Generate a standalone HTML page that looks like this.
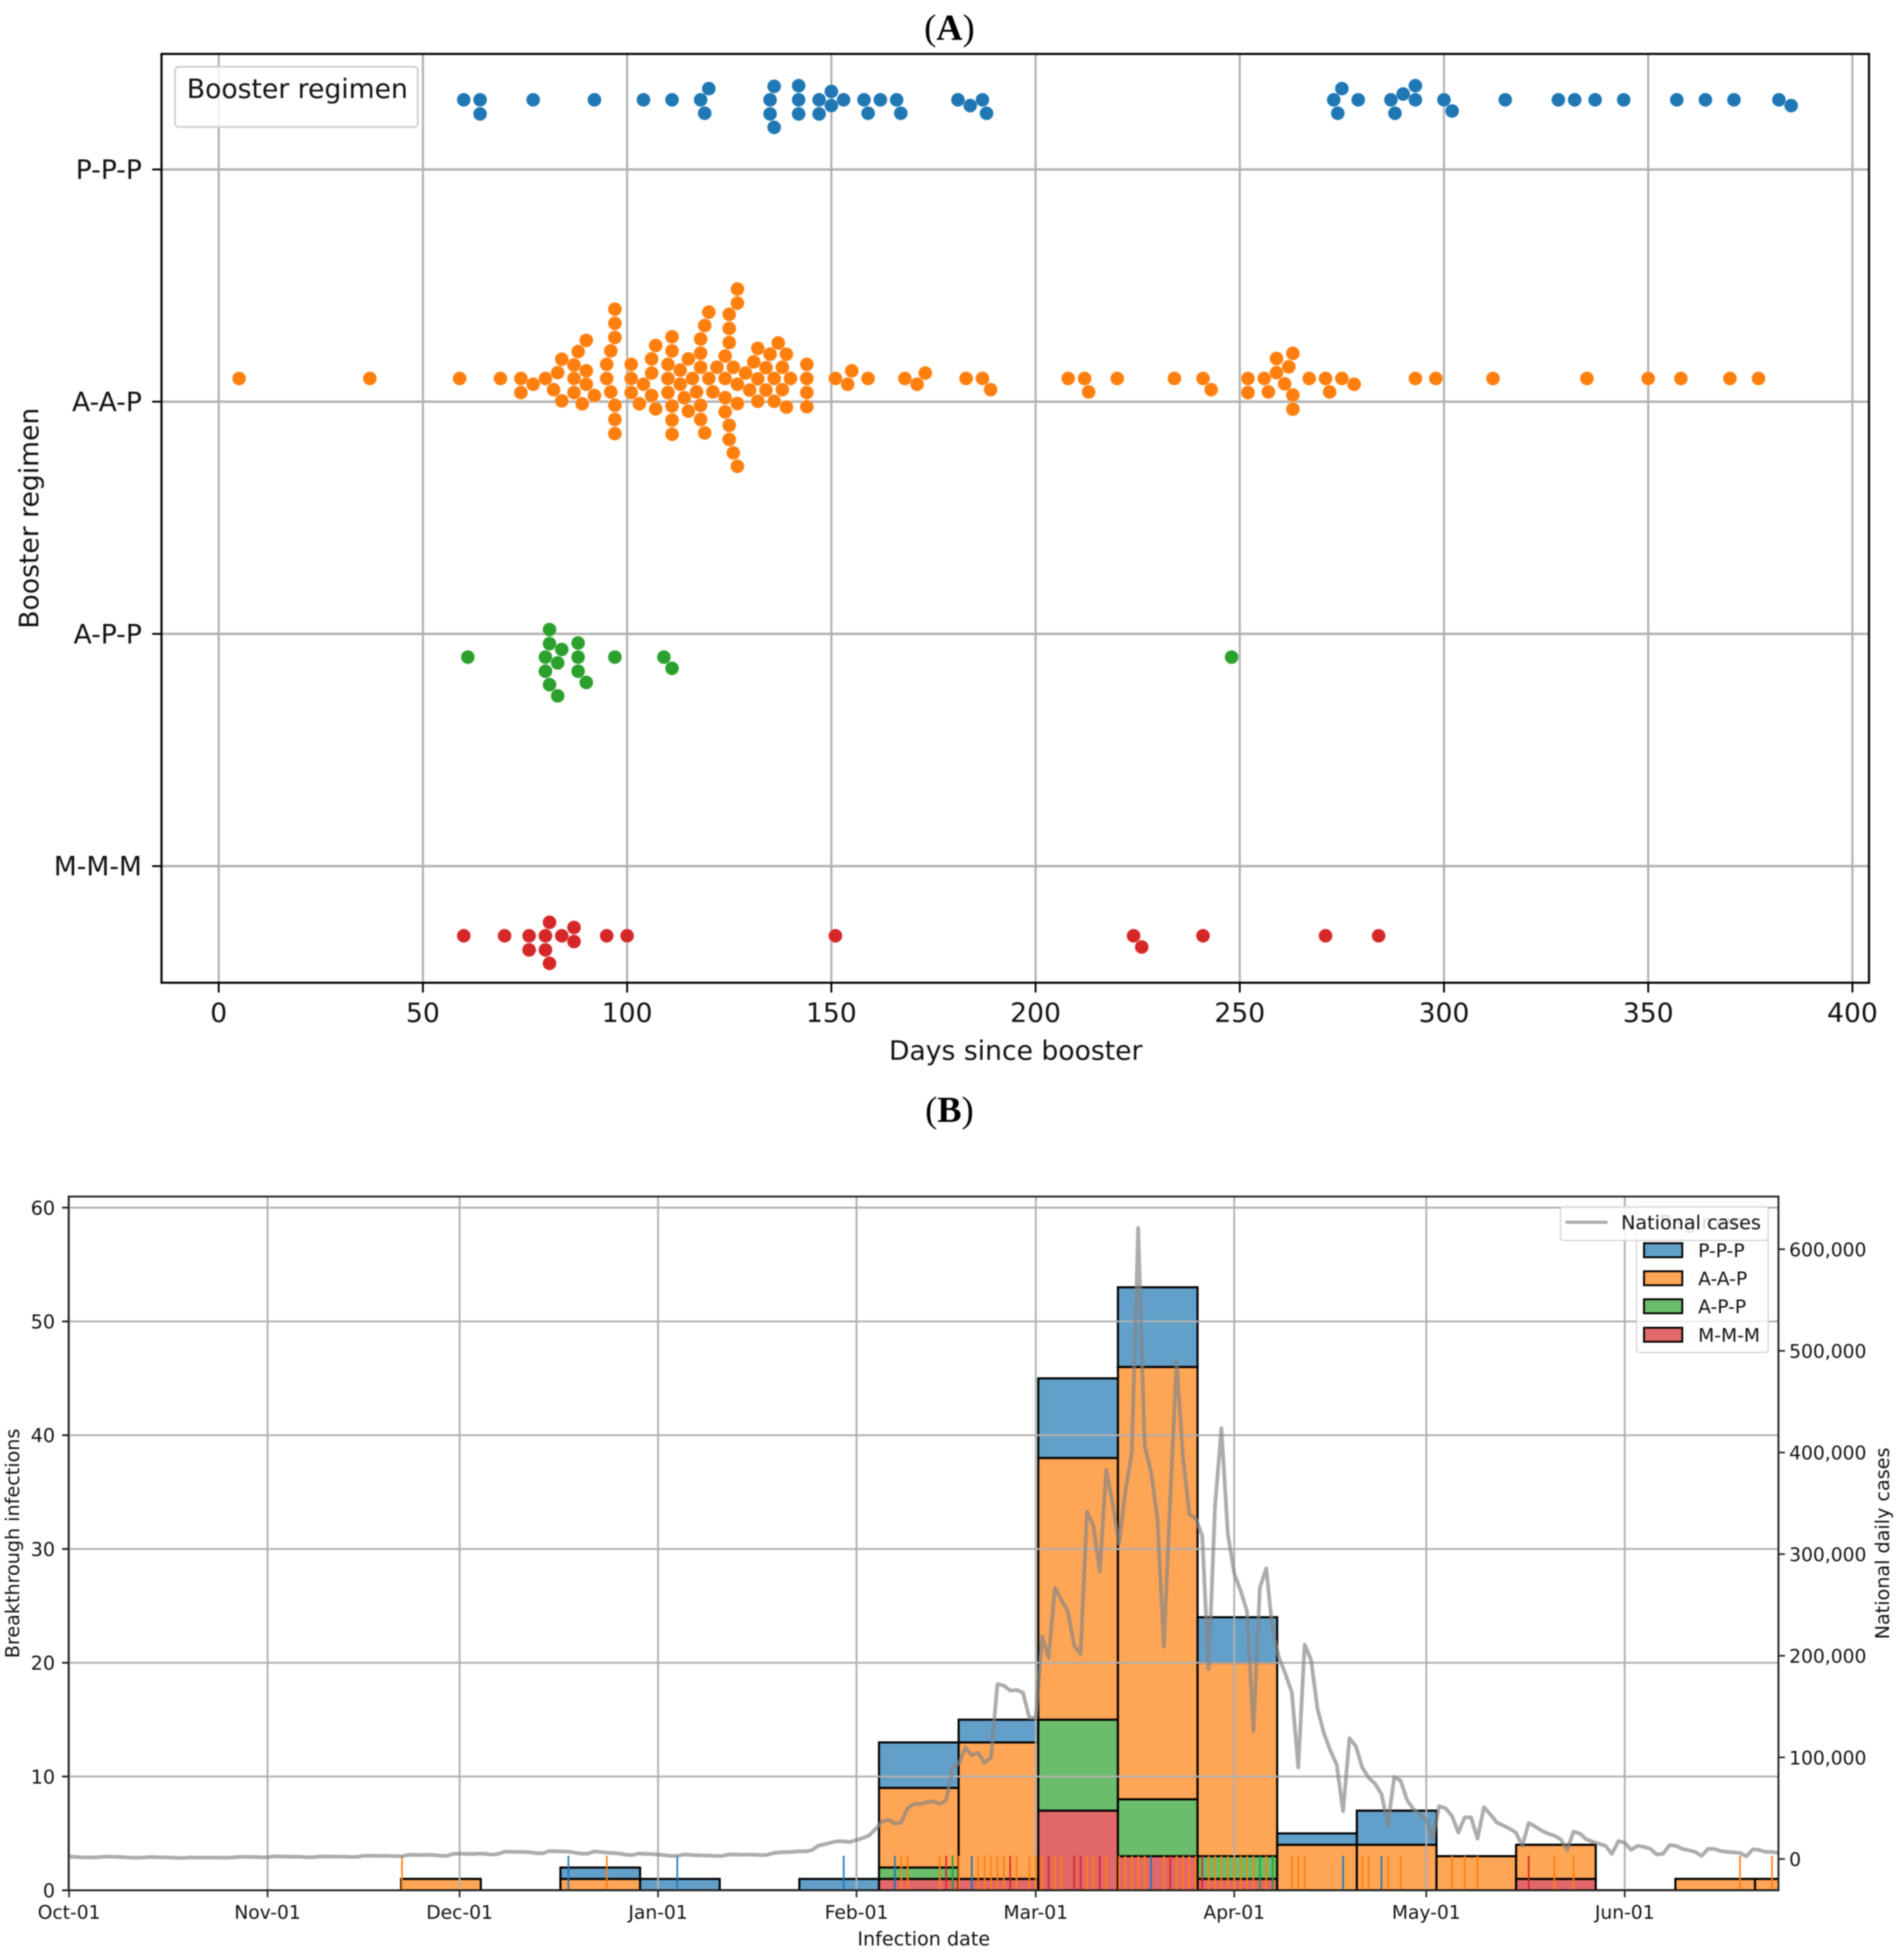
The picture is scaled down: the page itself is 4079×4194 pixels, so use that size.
<!DOCTYPE html>
<html lang="en">
<head>
<meta charset="utf-8">
<title>Booster regimen breakthrough infections</title>
<style>
html,body{margin:0;padding:0;background:#fff;}
svg{display:block;filter:blur(1px);}
text{font-family:"DejaVu Sans","Liberation Sans",sans-serif;fill:#111;}
.serif{font-family:"Liberation Serif",serif;fill:#000;}
</style>
</head>
<body>
<svg id="figure" xmlns="http://www.w3.org/2000/svg" width="4079" height="4194" viewBox="0 0 4079 4194">
  <defs>
    <clipPath id="clip-b"><rect x="147" y="2563" width="3663" height="1486"/></clipPath>
  </defs>
  <rect x="0" y="0" width="4079" height="4194" fill="#fff"/>
  <text class="serif" x="2034" y="85" font-size="78" text-anchor="middle">(<tspan font-weight="bold">A</tspan>)</text>
  <text class="serif" x="2034" y="2403" font-size="78" text-anchor="middle">(<tspan font-weight="bold">B</tspan>)</text>

  <g id="panel-a">
    <g id="a-grid"></g>
    <g id="a-dots"></g>
    <g id="a-axes"></g>
    <g>
      <rect x="375" y="143" width="520" height="129" rx="8" fill="#fff" fill-opacity="0.8" stroke="#d0d0d0" stroke-width="4"/>
      <text x="637" y="210" font-size="57" text-anchor="middle">Booster regimen</text>
    </g>
    <text x="2176" y="2270" font-size="57" text-anchor="middle">Days since booster</text>
    <text transform="translate(82,1110) rotate(-90)" font-size="57" text-anchor="middle">Booster regimen</text>
  </g>

  <g id="panel-b">
    <g id="b-plot" clip-path="url(#clip-b)">
      <g id="b-bars"></g>
      <g id="b-grid"></g>
      <g id="b-rug"></g>
      <g id="b-line"></g>
    </g>
    <g id="b-axes"></g>
    <g>
      <rect x="3506" y="2585" width="282" height="312" rx="6" fill="#fff" fill-opacity="0.8" stroke="#d8d8d8" stroke-width="3"/>
      <text x="3646" y="2632" font-size="41" text-anchor="middle">Regimen</text>
      <rect x="3522" y="2663" width="82" height="30" fill="#62a0ca" stroke="#000" stroke-width="4"/>
      <text x="3638" y="2693" font-size="40">P-P-P</text>
      <rect x="3522" y="2723" width="82" height="30" fill="#ffa556" stroke="#000" stroke-width="4"/>
      <text x="3638" y="2753" font-size="40">A-A-P</text>
      <rect x="3522" y="2783" width="82" height="30" fill="#6bbc6b" stroke="#000" stroke-width="4"/>
      <text x="3638" y="2813" font-size="40">A-P-P</text>
      <rect x="3522" y="2844" width="82" height="30" fill="#e26869" stroke="#000" stroke-width="4"/>
      <text x="3638" y="2874" font-size="40">M-M-M</text>
    </g>
    <g>
      <rect x="3343" y="2585" width="445" height="72" rx="6" fill="#fff" fill-opacity="0.85" stroke="#d8d8d8" stroke-width="3"/>
      <line x1="3354" x2="3444" y1="2618" y2="2618" stroke="#999" stroke-opacity="0.8" stroke-width="7"/>
      <text x="3473" y="2633" font-size="41">National cases</text>
    </g>
    <text x="1979" y="4167" font-size="41" text-anchor="middle">Infection date</text>
    <text transform="translate(41,3306) rotate(-90)" font-size="41" text-anchor="middle">Breakthrough infections</text>
    <text transform="translate(4047,3306) rotate(-90)" font-size="41" text-anchor="middle">National daily cases</text>
  </g>
</svg>

<script>
/* ---------- Panel A data: days since booster ---------- */
const regimenLabels = ['P-P-P', 'A-A-P', 'A-P-P', 'M-M-M'];
const daysTicks = [0, 50, 100, 150, 200, 250, 300, 350, 400];
const daysPPP = [60,64,64,77,92,104,111,118,119,120,135,135,136,136,142,142,142,147,147,150,150,153,158,159,162,166,167,181,184,187,188,273,274,275,279,287,288,290,293,293,300,302,315,328,332,337,344,357,364,371,382,385];
const daysAAP = [5,37,59,69,74,74,77,80,82,83,84,84,87,87,87,88,89,90,90,90,92,95,95,96,96,97,97,97,97,97,97,101,101,101,103,104,106,106,106,107,107,110,110,110,111,111,111,111,111,113,113,114,115,115,116,117,118,118,118,118,118,119,119,120,120,121,122,124,124,124,124,125,125,125,125,125,126,126,127,127,127,127,127,129,130,131,132,132,132,134,134,135,136,136,137,138,138,139,139,140,144,144,144,144,151,154,155,159,168,171,173,183,187,189,208,212,213,220,234,241,243,252,252,256,257,259,259,261,262,263,263,263,267,271,272,275,278,293,298,312,335,350,358,370,377];
const daysAPP = [61,80,80,81,81,81,83,83,84,88,88,88,90,97,109,111,248];
const daysMMM = [60,70,76,76,80,80,81,81,84,87,87,95,100,151,224,226,241,271,284];

/* ---------- Panel B data ---------- */
const monthTicks = [0, 31, 61, 92, 123, 151, 182, 212, 243];
const monthLabels = ['Oct-01', 'Nov-01', 'Dec-01', 'Jan-01', 'Feb-01', 'Mar-01', 'Apr-01', 'May-01', 'Jun-01'];
const infectionTicks = [0, 10, 20, 30, 40, 50, 60];
const nationalTicks = [0, 100000, 200000, 300000, 400000, 500000, 600000];
/* histogram counts per 12.44-day bin, starting at day 51.87 */
const binMMM = [0,0,0,0,0,0,1,1,7,3,1,0,0,0,1,0,0,0];
const binAPP = [0,0,0,0,0,0,1,0,8,5,2,0,0,0,0,0,0,0];
const binAAP = [1,0,1,0,0,0,7,12,23,38,17,4,4,3,3,0,1,1];
const binPPP = [0,0,1,1,0,1,4,2,7,7,4,1,3,0,0,0,0,0];
/* rug marks: infection day, counted from Oct-01 */
const rugPPP = [78,95,121,129,141,169,199,205];
const rugAAP = [52,84,130,131,136,139,142,143,144,145,146,148,150,151,152,154,155,159,160,162,164,165,166,167,168,171,173,174,175,176,178,179,180,181,182,183,184,185,187,191,192,193,202,203,206,208,216,218,220,232,235,261,266];
const rugAPP = [138,186,188];
const rugMMM = [137,147,153,157,158,161,172,177,228];
/* national daily cases, one value per day from Oct-01 */
const nationalCases = [
 2485,2085,1673,1573,1575,2027,2427,2173,1953,1594,1297,1347,1583,1939,1684,1617,1420,1050,1073,1571,1440,1441,1423,1508,1266,1266,1952,2111,2124,2061,1686,
 1685,2667,2482,2343,2247,2224,1758,1715,2425,2520,2368,2324,2419,2006,2125,3187,3292,3034,3206,3120,2827,2698,4116,4088,3938,4068,3901,3309,3032,5123,
 5266,5125,4944,5352,5128,4325,4954,7175,7102,7022,6977,6683,5817,5567,7850,7622,7435,7314,6236,5318,5202,7456,6919,6233,5842,5419,4207,3865,5409,5037,4875,
 4416,3833,3129,3024,4444,4126,3716,3511,3376,3007,3094,4388,4542,4166,4420,4194,3857,4071,5805,6603,6769,7009,7628,7513,8571,13012,14518,16096,17542,17300,16800,
 18800,20700,23300,29700,36900,38700,34800,36100,50300,54200,54200,56000,56800,54200,57500,90000,94000,109600,102000,104500,94600,99800,172000,170700,165800,166300,163700,139000,
 139000,219000,198000,267000,255000,243700,210000,201600,342000,328000,283000,383000,350000,310000,362000,400000,621000,407000,381000,335000,209000,354000,490000,395000,339000,335000,318000,187000,347000,424000,320000,
 281000,264000,243700,126000,267000,286000,224000,198000,182000,164000,90000,211000,196000,148000,124000,107000,93000,47000,119000,111000,90000,80000,74000,64000,33600,81000,77000,58000,49000,44000,
 39000,19000,52000,50000,42600,26000,41000,41000,20000,51000,44000,36000,33000,30000,26000,13000,35600,32000,28000,25000,23000,19400,9000,27000,25000,19400,17000,15000,13000,5000,17600,
 16000,9000,13000,12000,10000,4500,5200,13700,13000,10000,8600,7000,3000,10000,10000,7800,7000,6500,6000,2600,9600,9000,7000,7000,6000
];

const COLORS = {ppp:'#1f77b4', aap:'#ff7f0e', app:'#2ca02c', mmm:'#d62728'};
const FILLS = {ppp:'#62a0ca', aap:'#ffa556', app:'#6bbc6b', mmm:'#e26869'};
const NS = 'http://www.w3.org/2000/svg';

function mk(parent, tag, attrs, txt) {
  const el = document.createElementNS(NS, tag);
  for (const k in attrs) el.setAttribute(k, attrs[k]);
  if (txt !== undefined) el.textContent = txt;
  parent.appendChild(el);
  return el;
}
function byId(id) { return document.getElementById(id); }

/* ---------- Panel A scales ---------- */
const A = {left:346, right:4004, top:115.5, bottom:2105};
function xDays(d) { return 468.5 + 8.75 * d; }
function yRegimen(i) { return 363 + 497.4 * i; }
function yDodge(i) { return yRegimen(i) + (-0.3 + 0.2 * i) * 497.4; }

/* Beeswarm placement: each point takes the free slot nearest the midline */
function swarm(days, midY) {
  const r = 14.4;
  const placed = [];
  days.slice().sort(function (a, b) { return a - b; }).forEach(function (d) {
    const px = xDays(d);
    const near = [];
    for (let j = placed.length - 1; j >= 0; j--) {
      if (px - placed[j].x < 2 * r) near.unshift(placed[j]); else break;
    }
    const cands = [0];
    let leftFirst = true;
    near.forEach(function (n) {
      const dxAlong = px - n.x;
      const off = Math.sqrt(Math.max(4 * r * r - dxAlong * dxAlong, 0)) * 1.05;
      const lo = n.u - off, hi = n.u + off;
      if (leftFirst) { cands.push(lo, hi); } else { cands.push(hi, lo); }
      leftFirst = !leftFirst;
    });
    const ordered = cands.map(function (u, i) { return {u: u, i: i}; })
      .sort(function (a, b) { return (Math.abs(a.u) - Math.abs(b.u)) || (a.i - b.i); });
    let pick = ordered[ordered.length - 1].u;
    for (let c = 0; c < ordered.length; c++) {
      const u = ordered[c].u;
      const ok = near.every(function (n) {
        const dx = n.x - px, du = n.u - u;
        return dx * dx + du * du >= 4 * r * r - 1e-6;
      });
      if (ok) { pick = u; break; }
    }
    placed.push({x: px, u: pick, day: d});
  });
  return placed.map(function (p) { return {x: p.x, y: midY - p.u, day: p.day}; });
}

/* ---------- Panel A draw ---------- */
(function drawA() {
  const g = byId('a-grid'), ax = byId('a-axes'), dots = byId('a-dots');
  daysTicks.forEach(function (t) {
    const gl = mk(g, 'line', {x1: xDays(t), x2: xDays(t), y1: A.top, y2: A.bottom, stroke: '#b0b0b0', 'stroke-width': 4.5});
    
    
    const tk = mk(ax, 'line', {x1: xDays(t), x2: xDays(t), y1: A.bottom, y2: A.bottom + 21, stroke: '#000', 'stroke-width': 4});
    
    
    const lb = mk(ax, 'text', {x: xDays(t), y: 2189, 'font-size': 57, 'text-anchor': 'middle'}, String(t));
    
    
  });
  regimenLabels.forEach(function (name, i) {
    const y = yRegimen(i);
    const gl = mk(g, 'line', {x1: A.left, x2: A.right, y1: y, y2: y, stroke: '#b0b0b0', 'stroke-width': 5});
    
    
    const tk = mk(ax, 'line', {x1: A.left - 20, x2: A.left, y1: y, y2: y, stroke: '#000', 'stroke-width': 4});
    
    
    const lb = mk(ax, 'text', {x: 304, y: y + 20, 'font-size': 57, 'text-anchor': 'end'}, name);
    
    
  });
  const frame = mk(ax, 'rect', {x: A.left, y: A.top, width: A.right - A.left, height: A.bottom - A.top, fill: 'none', stroke: '#000', 'stroke-width': 4.5});
  
  

  const groups = [[daysPPP, 'ppp'], [daysAAP, 'aap'], [daysAPP, 'app'], [daysMMM, 'mmm']];
  groups.forEach(function (grp, i) {
    swarm(grp[0], yDodge(i)).forEach(function (p) {
      const c = mk(dots, 'circle', {cx: p.x, cy: p.y, r: 14.8, fill: COLORS[grp[1]], stroke: '#fff', 'stroke-width': 1, 'stroke-opacity': 0.5});
      
      
    });
  });
})();

/* ---------- Panel B scales ---------- */
const B = {left:147, right:3810, top:2563, bottom:4049};
function xDate(d) { return 148 + 13.715 * d; }
function yCount(v) { return B.bottom - 24.37 * v; }
function yNational(v) { return 3982 - 0.002177 * v; }
const binStart = 51.87, binWidth = 12.44;

/* ---------- Panel B draw ---------- */
(function drawB() {
  const bars = byId('b-bars'), grid = byId('b-grid'), rug = byId('b-rug'), line = byId('b-line'), ax = byId('b-axes');
  const stacks = [[binMMM, 'mmm'], [binAPP, 'app'], [binAAP, 'aap'], [binPPP, 'ppp']];
  binAAP.forEach(function (_, k) {
    const x0 = xDate(binStart + binWidth * k), x1 = xDate(binStart + binWidth * (k + 1));
    let cum = 0;
    stacks.forEach(function (s) {
      const v = s[0][k];
      const y0 = yCount(cum), y1 = yCount(cum + v);
      const p = mk(bars, 'path', {d: 'M' + x0 + ' ' + y0 + 'H' + x1 + 'V' + y1 + 'H' + x0 + 'Z', fill: FILLS[s[1]], stroke: '#000', 'stroke-width': 4.5});
      
      
      cum += v;
    });
  });
  infectionTicks.forEach(function (t) {
    const y = yCount(t);
    const gl = mk(grid, 'line', {x1: B.left, x2: B.right, y1: y, y2: y, stroke: '#b0b0b0', 'stroke-width': 4});
    
    
    const tk = mk(ax, 'line', {x1: B.left - 14, x2: B.left, y1: y, y2: y, stroke: '#222', 'stroke-width': 4});
    
    
    const lb = mk(ax, 'text', {x: 118, y: y + 15, 'font-size': 41, 'text-anchor': 'end'}, String(t));
    
    
  });
  monthTicks.forEach(function (t, i) {
    const x = xDate(t);
    const gl = mk(grid, 'line', {x1: x, x2: x, y1: B.top, y2: B.bottom, stroke: '#b0b0b0', 'stroke-width': 4});
    
    
    const tk = mk(ax, 'line', {x1: x, x2: x, y1: B.bottom, y2: B.bottom + 15, stroke: '#222', 'stroke-width': 3.5});
    
    
    const lb = mk(ax, 'text', {x: x, y: 4110, 'font-size': 40, 'text-anchor': 'middle'}, monthLabels[i]);
    
    
  });
  [[rugPPP, 'ppp'], [rugAAP, 'aap'], [rugAPP, 'app'], [rugMMM, 'mmm']].forEach(function (r) {
    r[0].forEach(function (d) {
      const m = mk(rug, 'line', {x1: xDate(d), x2: xDate(d), y1: B.bottom, y2: B.bottom - 74, stroke: COLORS[r[1]], 'stroke-width': 3.5});
      
      
    });
  });
  const pts = nationalCases.map(function (v, d) { return xDate(d) + ',' + yNational(v); }).join(' ');
  const pl = mk(line, 'polyline', {points: pts, fill: 'none', stroke: '#858585', 'stroke-opacity': 0.68, 'stroke-width': 8, 'stroke-linejoin': 'round'});
  
  

  nationalTicks.forEach(function (t) {
    const y = yNational(t);
    const tk = mk(ax, 'line', {x1: B.right, x2: B.right + 14, y1: y, y2: y, stroke: '#222', 'stroke-width': 3.5});
    
    
    const lb = mk(ax, 'text', {x: 3833, y: y + 15, 'font-size': 40}, t.toLocaleString('en-US'));
    
    
  });
  const frame = mk(ax, 'rect', {x: B.left, y: B.top, width: B.right - B.left, height: B.bottom - B.top, fill: 'none', stroke: '#222', 'stroke-width': 4});
  
  
})();
</script>
</body>
</html>
